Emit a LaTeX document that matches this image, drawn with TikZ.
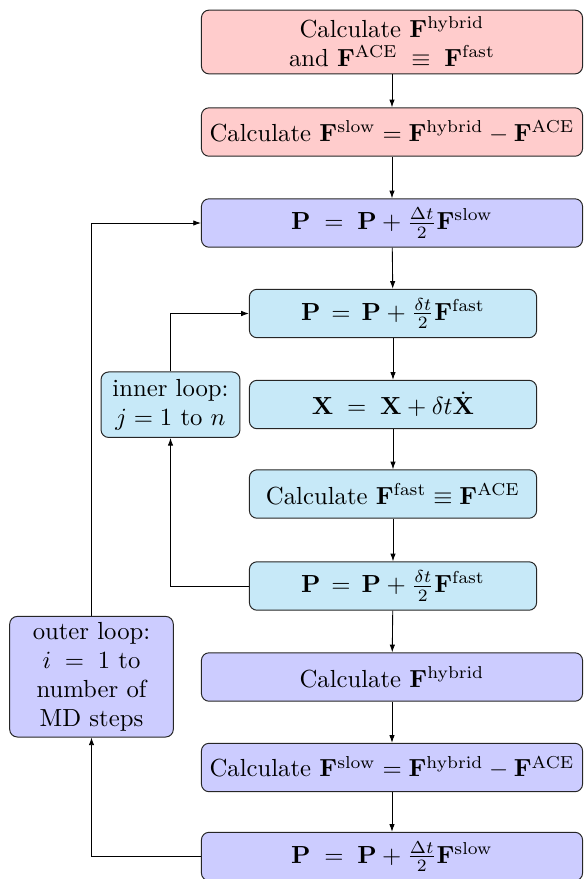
\documentclass[tikz,border=0pt]{standalone}
\usepackage{amsmath}
\usetikzlibrary{arrows.meta}
\definecolor{redbox}{RGB}{255,204,204}
\definecolor{purplebox}{RGB}{204,204,255}
\definecolor{cyanbox}{RGB}{199,233,248}
\begin{document}
\begin{tikzpicture}[x=0.4046pt,y=-0.4046pt,
  box/.style={draw=black!85,line width=0.4pt,rounded corners=3.1pt,align=center,inner sep=1.5pt,font=\fontsize{10}{11.8}\selectfont},
  wide/.style={box,minimum width=154.2pt,minimum height=19.6pt},
  narrow/.style={box,minimum width=116.2pt,minimum height=19.6pt},
  arr/.style={-{Latex[length=3.1pt,width=2.2pt]},line width=0.35pt}]
\useasboundingbox (0,0) rectangle (584,879);
\node[wide,fill=redbox,minimum height=25.8pt] (b1) at (392,42) {Calculate $\mathbf{F}^{\mathrm{hybrid}}$\\ and $\mathbf{F}^{\mathrm{ACE}}\;\equiv\;\mathbf{F}^{\mathrm{fast}}$};
\node[wide,fill=redbox] (b2) at (392,132) {Calculate $\mathbf{F}^{\mathrm{slow}}=\mathbf{F}^{\mathrm{hybrid}}-\mathbf{F}^{\mathrm{ACE}}$};
\node[wide,fill=purplebox] (b3) at (392,223) {$\mathbf{P}\;=\;\mathbf{P}+\frac{\Delta t}{2}\mathbf{F}^{\mathrm{slow}}$};
\node[narrow,fill=cyanbox] (b4) at (393,313.5) {$\mathbf{P}\,=\,\mathbf{P}+\frac{\delta t}{2}\mathbf{F}^{\mathrm{fast}}$};
\node[narrow,fill=cyanbox] (b5) at (393,404.5) {$\mathbf{X}\;=\;\mathbf{X}+\delta t\dot{\mathbf{X}}$};
\node[narrow,fill=cyanbox] (b6) at (393,494) {Calculate $\mathbf{F}^{\mathrm{fast}}\equiv\mathbf{F}^{\mathrm{ACE}}$};
\node[narrow,fill=cyanbox] (b7) at (393,586) {$\mathbf{P}\,=\,\mathbf{P}+\frac{\delta t}{2}\mathbf{F}^{\mathrm{fast}}$};
\node[wide,fill=purplebox] (b8) at (392,677) {Calculate $\mathbf{F}^{\mathrm{hybrid}}$};
\node[wide,fill=purplebox] (b9) at (392,767.5) {Calculate $\mathbf{F}^{\mathrm{slow}}=\mathbf{F}^{\mathrm{hybrid}}-\mathbf{F}^{\mathrm{ACE}}$};
\node[wide,fill=purplebox] (b10) at (392,856.5) {$\mathbf{P}\;=\;\mathbf{P}+\frac{\Delta t}{2}\mathbf{F}^{\mathrm{slow}}$};
\node[box,fill=cyanbox,minimum width=56.2pt,minimum height=26.5pt] (inner) at (170.5,404.7) {inner loop:\\ $j=1$ to $n$};
\node[box,fill=purplebox,minimum width=66.2pt,minimum height=48.8pt] (outer) at (91.5,676.7) {outer loop:\\ $i\;=\;1$ to\\ number of\\ MD steps};
\draw[arr] (b1) -- (b2);
\draw[arr] (b2) -- (b3);
\draw[arr] (b3) -- (b4);
\draw[arr] (b4) -- (b5);
\draw[arr] (b5) -- (b6);
\draw[arr] (b6) -- (b7);
\draw[arr] (b7) -- (b8);
\draw[arr] (b8) -- (b9);
\draw[arr] (b9) -- (b10);
\draw[arr] (b7.west) -| (inner.south);
\draw[arr] (inner.north) |- (b4.west);
\draw[arr] (b10.west) -| (outer.south);
\draw[arr] (outer.north) |- (b3.west);
\end{tikzpicture}
\end{document}
